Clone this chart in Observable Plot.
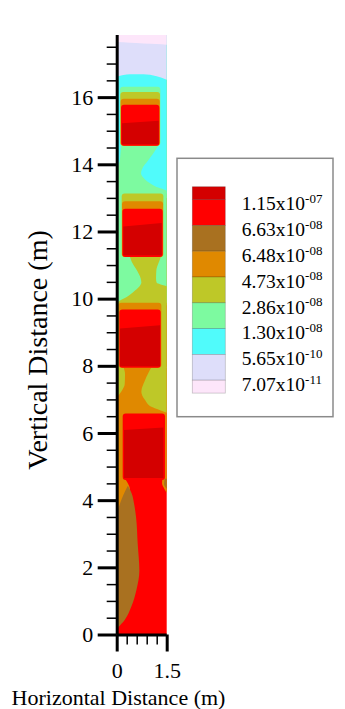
<!DOCTYPE html>
<html>
<head>
<meta charset="utf-8">
<script src="https://cdn.jsdelivr.net/npm/d3@7"></script>
<script src="https://cdn.jsdelivr.net/npm/@observablehq/plot@0.6"></script>
<style>
  html, body { margin: 0; padding: 0; background: #fff; }
  #figure { position: relative; width: 345px; height: 709px; }
</style>
</head>
<body>
<div id="figure"></div>
<script>
// Contour levels listed in the key, top to bottom
const levelMantissa = ["1.15", "6.63", "6.48", "4.73", "2.86", "1.30", "5.65", "7.07"];
const levelExponent = ["-07", "-08", "-08", "-08", "-08", "-08", "-10", "-11"];

// Value bands between the levels, highest first, and their colours
const bandNames = ["b8", "b7", "b6", "b5", "b4", "b3", "b2", "b1", "b0"];
const bandColors = ["#d40000", "#ff0000", "#a97120", "#e08900", "#bec828", "#7dfaa0", "#50fbfb", "#dedefa", "#fde6fa"];

// Column extent (m)
const widthExtent = [0, 1.5];
const depthExtent = [0, 17.85];

// Axis ticks (m)
const yMajorTicks = [0, 2, 4, 6, 8, 10, 12, 14, 16];
const yMinorTicks = [0.5, 1, 1.5, 2.5, 3, 3.5, 4.5, 5, 5.5, 6.5, 7, 7.5, 8.5, 9, 9.5,
                     10.5, 11, 11.5, 12.5, 13, 13.5, 14.5, 15, 15.5, 16.5, 17, 17.5];
const xMajorTicks = [0, 1.5];
const xMinorTicks = [0.3, 0.6, 0.9, 1.2];

// Horizontal strata: each band fills from its floor up to the top of the column.
// Floors are sampled at these horizontal positions (m).
const floorX = [0, 0.4, 0.8, 1.2, 1.5];
const strata = [
  {band: "b7", floor: [0, 0, 0, 0, 0]},
  {band: "b5", floor: [4.66, 4.66, 4.66, 4.66, 4.66]},
  {band: "b4", floor: [7.94, 7.94, 7.94, 7.94, 7.94]},
  {band: "b3", floor: [9.88, 9.88, 9.88, 9.88, 9.88]},
  {band: "b2", floor: [13.13, 13.13, 13.13, 13.13, 13.13]},
  {band: "b1", floor: [16.61, 16.68, 16.68, 16.62, 16.52]},
  {band: "b0", floor: [17.64, 17.62, 17.60, 17.58, 17.56]}
];

// Pockets between the slabs: rows of [depth, left edge, right edge] (m)
const mintBetween12 = [[14.6, 0.13, 1.27], [14.3, 0.11, 1.08], [14.1, 0.09, 0.93], [13.9, 0.03, 0.78],
  [13.73, 0, 0.73], [13.55, 0, 0.85], [13.35, 0, 1.15], [13.2, 0, 1.5], [13.0, 0, 1.5]];
const oliveNeck23 = [[11.3, 0.38, 1.35], [11.1, 0.45, 1.27], [10.85, 0.6, 1.19], [10.6, 0.72, 1.18],
  [10.47, 0.74, 1.2], [10.42, 0.72, 1.32], [10.36, 0.68, 1.5], [10.2, 0.5, 1.5], [10.05, 0.3, 1.5],
  [9.93, 0.08, 1.5], [9.8, 0, 1.5]];
const oliveLeft34 = [[7.97, 0, 0.2], [7.75, 0, 0.25], [7.45, 0, 0.24], [7.25, 0, 0.15], [7.05, 0, 0]];
const oliveRight34 = [[7.97, 1.05, 1.5], [7.57, 0.85, 1.5], [7.23, 0.74, 1.5], [6.98, 0.85, 1.5],
  [6.78, 1.04, 1.5], [6.68, 1.3, 1.5], [6.6, 1.5, 1.5]];
const orangeLeftBase = [[4.7, 0, 0.2], [4.3, 0, 0.4], [4.1, 0, 0.4], [3.85, 0, 0.3], [3.64, 0, 0.13], [3.5, 0, 0]];
const brownLens = [[4.42, 0.33, 0.34], [4.2, 0.22, 0.45], [3.9, 0.1, 0.52], [3.5, 0, 0.58], [2.7, 0, 0.63],
  [1.9, 0, 0.68], [1.32, 0, 0.59], [0.83, 0, 0.44], [0.43, 0, 0.24], [0.2, 0, 0.04], [0.15, 0, 0]];
const orangeRightBase = [[4.7, 1.38, 1.5], [4.5, 1.36, 1.5], [4.32, 1.44, 1.5], [4.22, 1.5, 1.5]];
const brownRightBase = [[4.64, 1.44, 1.5], [4.48, 1.42, 1.5], [4.34, 1.5, 1.5]];

const pockets = [
  {band: "b3", rows: mintBetween12},
  {band: "b4", rows: oliveNeck23},
  {band: "b4", rows: oliveLeft34},
  {band: "b4", rows: oliveRight34},
  {band: "b5", rows: orangeLeftBase},
  {band: "b6", rows: brownLens},
  {band: "b5", rows: orangeRightBase},
  {band: "b6", rows: brownRightBase}
];

// Slabs, outer shells painted before inner ones (m)
const slabs = [
  {band: "b3", x1: 0.10, x2: 1.31, y1: 14.55, y2: 16.31},
  {band: "b4", x1: 0.11, x2: 1.30, y1: 14.55, y2: 16.15},
  {band: "b5", x1: 0.12, x2: 1.29, y1: 14.55, y2: 15.95},
  {band: "b7", x1: 0.13, x2: 1.28, y1: 14.55, y2: 15.77},
  {band: "b4", x1: 0.15, x2: 1.40, y1: 11.24, y2: 13.13},
  {band: "b5", x1: 0.16, x2: 1.39, y1: 11.24, y2: 12.90},
  {band: "b7", x1: 0.17, x2: 1.38, y1: 11.24, y2: 12.68},
  {band: "b5", x1: 0.05, x2: 1.34, y1: 7.94,  y2: 9.88},
  {band: "b7", x1: 0.08, x2: 1.32, y1: 7.94,  y2: 9.68},
  {band: "b7", x1: 0.18, x2: 1.45, y1: 4.60,  y2: 6.58}
];

// Cores of the slabs (highest band), with slightly tilted tops (m)
const cores = [
  {x1: 0.16, x2: 1.26, bottom: 14.60, topLeft: 15.22, topRight: 15.30},
  {x1: 0.20, x2: 1.35, bottom: 11.29, topLeft: 12.15, topRight: 12.25},
  {x1: 0.10, x2: 1.30, bottom: 7.99,  topLeft: 9.11,  topRight: 9.21},
  {x1: 0.22, x2: 1.40, bottom: 4.66,  topLeft: 6.09,  topRight: 6.16}
];

// Long-form tables for the marks
const strataRows = strata.flatMap((s, i) =>
  floorX.map((x, j) => ({id: i, band: s.band, x, y1: s.floor[j], y2: depthExtent[1]})));
const pocketRows = pockets.flatMap((p, i) =>
  p.rows.map(([y, xa, xb]) => ({id: i, band: p.band, y, x1: xa, x2: xb})).sort((a, b) => a.y - b.y));
const coreRows = cores.flatMap((c, i) => [
  {id: i, band: "b8", x: c.x1, y1: c.bottom, y2: c.topLeft},
  {id: i, band: "b8", x: c.x2, y1: c.bottom, y2: c.topRight}
]);

const serif = "'Liberation Serif', 'Times New Roman', Times, serif";

const chart = Plot.plot({
  width: 345,
  height: 709,
  marginLeft: 116.7,
  marginRight: 178.3,
  marginTop: 35,
  marginBottom: 74.5,
  x: {domain: widthExtent},
  y: {domain: depthExtent},
  color: {type: "ordinal", domain: bandNames, range: bandColors},
  style: {fontFamily: serif, background: "white", color: "black"},
  marks: [
    Plot.areaY(strataRows, {x: "x", y1: "y1", y2: "y2", z: "id", fill: "band", curve: "monotone-x"}),
    Plot.areaX(pocketRows, {y: "y", x1: "x1", x2: "x2", z: "id", fill: "band", curve: "monotone-y"}),
    Plot.rect(slabs, {x1: "x1", x2: "x2", y1: "y1", y2: "y2", fill: "band", rx: 3}),
    Plot.areaY(coreRows, {x: "x", y1: "y1", y2: "y2", z: "id", fill: "band"}),
    Plot.axisY(yMinorTicks, {tickSize: 10, strokeWidth: 1.5, tickFormat: () => "", label: null}),
    Plot.axisY(yMajorTicks, {tickSize: 19, tickPadding: 5, strokeWidth: 3, fontSize: 22, tickFormat: d => String(d), label: null}),
    Plot.axisX(xMinorTicks, {tickSize: 10, strokeWidth: 1.5, tickFormat: () => "", label: null}),
    Plot.axisX(xMajorTicks, {tickSize: 17, tickPadding: 10, strokeWidth: 3, fontSize: 22, tickFormat: d => String(d), label: null}),
    Plot.ruleX([0], {strokeWidth: 3}),
    Plot.ruleY([0], {strokeWidth: 3})
  ]
});

const svg = d3.select(chart);

// Axis titles
svg.append("text")
  .attr("x", 118.5).attr("y", 705)
  .attr("text-anchor", "middle")
  .attr("font-family", serif).attr("font-size", 22).attr("fill", "black")
  .text("Horizontal Distance (m)");
svg.append("text")
  .attr("transform", "translate(46.5,350) rotate(-90)")
  .attr("text-anchor", "middle")
  .attr("font-family", serif).attr("font-size", 28).attr("fill", "black")
  .text("Vertical Distance (m)");

// Key: banded colour bar with the level values at the band edges
const key = svg.append("g").attr("font-family", serif).attr("fill", "black").attr("text-anchor", "start");
key.append("rect")
  .attr("x", 177).attr("y", 158.3).attr("width", 156).attr("height", 258.4)
  .attr("fill", "white").attr("stroke", "#8a8a8a").attr("stroke-width", 1.5);
const barTop = 186.7, step = 25.8, barLeft = 192.3, barWidth = 33;
let yCursor = barTop;
bandColors.forEach((c, i) => {
  const h = (i === 0 || i === bandColors.length - 1) ? step / 2 : step;
  key.append("rect")
    .attr("x", barLeft).attr("y", yCursor).attr("width", barWidth).attr("height", h)
    .attr("fill", c).attr("stroke", "rgba(0,0,0,0.22)").attr("stroke-width", 0.8);
  yCursor += h;
});
levelMantissa.forEach((m, k) => {
  const edge = barTop + step / 2 + k * step;
  const t = key.append("text")
    .attr("x", 241.7).attr("y", edge + 10.7)
    .attr("text-anchor", "start").attr("font-size", 19.5);
  t.append("tspan").text(m + "x10");
  t.append("tspan").attr("dy", -7.4).attr("font-size", 13).text(levelExponent[k]);
});

document.getElementById("figure").appendChild(chart);
</script>
</body>
</html>
